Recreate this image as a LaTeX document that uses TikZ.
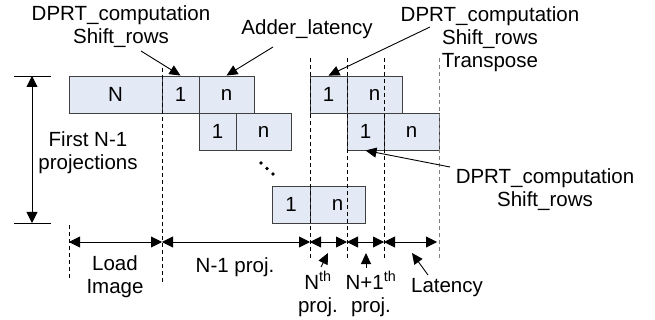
\documentclass[tikz,border=0pt]{standalone}
\usepackage{fontspec}
\setmainfont{Liberation Sans}
\usetikzlibrary{arrows.meta}
\definecolor{boxfill}{RGB}{228,234,245}
\definecolor{boxline}{RGB}{64,64,64}
\tikzset{
  blk/.style={draw=boxline, fill=boxfill, minimum height=37pt, inner sep=0pt},
  pt/.style={-{Triangle[length=11pt,width=10pt]}},
  dim/.style={{Triangle[length=11pt,width=11pt]}-{Triangle[length=11pt,width=11pt]}},
  guide/.style={dash pattern=on 4pt off 3pt, line width=0.7pt},
  lbl/.style={align=center, inner sep=0pt, anchor=base}
}

\begin{document}
\begin{tikzpicture}[x=1pt,y=-1pt,line width=0.9pt,font=\fontsize{20.5}{23}\selectfont]
\useasboundingbox (0,0) rectangle (655,320);

% Blocks
\node[blk, minimum width=93pt] (N) at (115.5,94.5) {N};
\node[blk, minimum width=37pt] (oneA) at (180.5,94.5) {1};
\node[blk, minimum width=55pt] (nA) at (226.5,94.5) {n};
\node[blk, minimum width=37pt] (oneB) at (217.5,131.5) {1};
\node[blk, minimum width=55pt] (nB) at (263.5,131.5) {n};
\node[blk, minimum width=38pt] (oneC) at (291,204.5) {1};
\node[blk, minimum width=55pt] (nC) at (337.5,204.5) {n};
\node[blk, minimum width=37pt] (oneD) at (328.5,94.5) {1};
\node[blk, minimum width=55pt] (nD) at (374.5,94.5) {n};
\node[blk, minimum width=37pt] (oneE) at (365.5,131.5) {1};
\node[blk, minimum width=55pt] (nE) at (411.5,131.5) {n};

% dots
\foreach \i in {0,1,2}
  \fill (261+6*\i,163+5.5*\i) circle (1.8);

% Guides
\draw[guide] (69,225) -- (69,278);
\draw[guide] (162,68) -- (162,282);
\draw[guide] (310,58) -- (310,260);
\draw[guide] (347,58) -- (347,260);
\draw[guide] (384,58) -- (384,260);
\draw[guide, gray] (439,58) -- (439,260);

% Left dimension
\draw (14,76) -- (51,76);
\draw (14,223) -- (51,223);
\coordinate (vtop) at (32,76);
\coordinate (vbot) at (32,223);
\draw[dim] (vtop) -- (vbot);
\node[lbl] (first) at (88,170) {First N-1\\projections};

% Bottom dimensions
\coordinate (d0) at (69,242);
\coordinate (d1) at (162,242);
\coordinate (d2) at (310,242);
\coordinate (d3) at (347,242);
\coordinate (d4) at (384,242);
\coordinate (d5) at (437,242);
\draw[dim] (d0) -- (d1);
\draw[dim] (d1) -- (d2);
\draw[dim] (d2) -- (d3);
\draw[dim] (d3) -- (d4);
\draw[dim] (d4) -- (d5);

\node[lbl] (load) at (115,293) {Load\\Image};
\node[lbl] (nm1) at (235,272) {N-1 proj.};
\node[lbl] (nth) at (318,312) {N\textsuperscript{th}\\proj.};
\node[lbl] (np1) at (371,312) {N+1\textsuperscript{th}\\proj.};
\node[lbl] (lat) at (447,292) {Latency};
\coordinate (tN) at (321,267);
\coordinate (hN) at (328,253);
\coordinate (tP) at (366,268);
\coordinate (hP) at (366,253);
\coordinate (tL) at (428,275);
\coordinate (hL) at (412,253);
\draw[pt] (tN) -- (hN);
\draw[pt] (tP) -- (hP);
\draw[pt] (tL) -- (hL);

% Top labels
\node[lbl] (shiftA) at (121,44) {DPRT\_computation\\Shift\_rows};
\node[lbl] (adder) at (307,35) {Adder\_latency};
\node[lbl] (shiftT) at (490,68) {DPRT\_computation\\Shift\_rows\\Transpose};
\node[lbl] (shiftE) at (545,207) {DPRT\_computation\\Shift\_rows};
\coordinate (tA) at (141,51);
\coordinate (tB) at (273,47);
\coordinate (tT) at (430,27);
\coordinate (tE) at (450,167);
\draw[pt] (tA) -- (oneA.north);
\draw[pt] (tB) -- (nA.north);
\draw[pt] (tT) -- (oneD.north);
\draw[pt] (tE) -- (oneE.south);
\end{tikzpicture}
\end{document}
